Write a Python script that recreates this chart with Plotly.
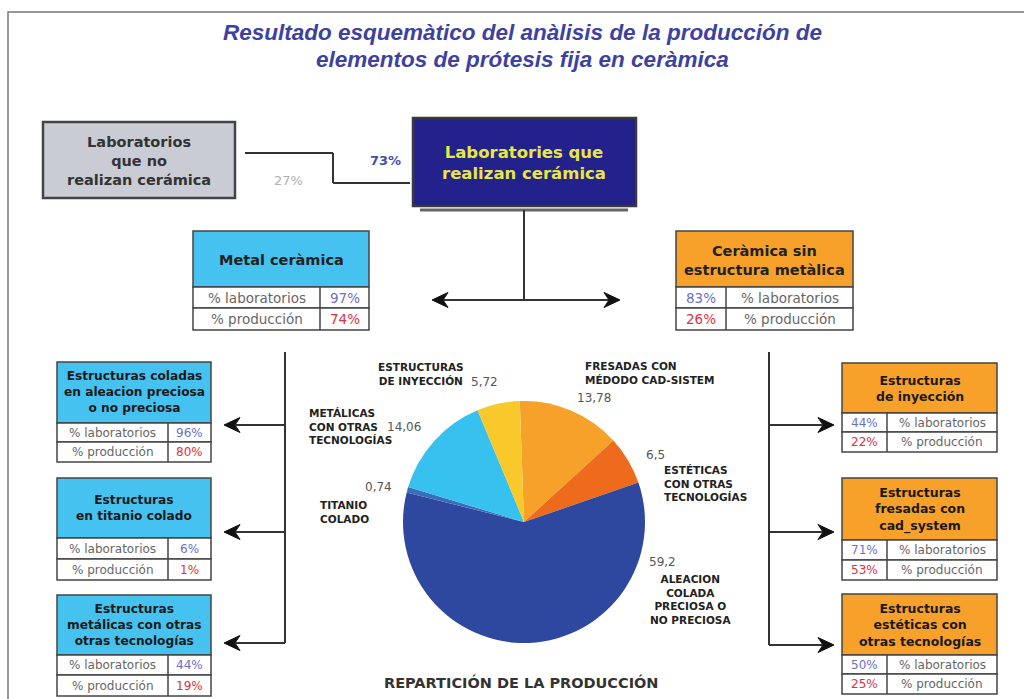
import plotly.graph_objects as go

# ---------------- data ----------------
title_lines = ["Resultado esquemàtico del anàlisis de la producción de",
               "elementos de prótesis fija en ceràmica"]
no_ceramic_label = "Laboratorios<br>que no<br>realizan cerámica"
ceramic_label = "Laboratories que<br>realizan cerámica"
share_no = "27%"
share_yes = "73%"

branch_titles = ["Metal ceràmica", "Ceràmica sin<br>estructura metàlica"]
branch_labs = ["97%", "83%"]
branch_prod = ["74%", "26%"]

left_titles = ["Estructuras coladas<br>en aleacion preciosa<br>o no preciosa",
               "Estructuras<br>en titanio colado",
               "Estructuras<br>metálicas con otras<br>otras tecnologías"]
left_labs = ["96%", "6%", "44%"]
left_prod = ["80%", "1%", "19%"]

right_titles = ["Estructuras<br>de inyección",
                "Estructuras<br>fresadas con<br>cad_system",
                "Estructuras<br>estéticas con<br>otras tecnologías"]
right_labs = ["44%", "71%", "50%"]
right_prod = ["22%", "53%", "25%"]

row_labels = ["% laboratorios", "% producción"]

pie_labels = ["FRESADAS CON<br>MÉDODO CAD-SISTEM",
              "ESTÉTICAS<br>CON OTRAS<br>TECNOLOGÍAS",
              "ALEACION<br>COLADA<br>PRECIOSA O<br>NO PRECIOSA",
              "TITANIO<br>COLADO",
              "METÁLICAS<br>CON OTRAS<br>TECNOLOGÍAS",
              "ESTRUCTURAS<br>DE INYECCIÓN"]
pie_values = [13.78, 6.5, 59.2, 0.74, 14.06, 5.72]
pie_title = "REPARTICIÓN DE LA PRODUCCIÓN"

# ---------------- styles / layout positions ----------------
W, H = 1024, 699
FONT = "Liberation Sans, Arial, sans-serif"
WIDE = "DejaVu Sans, Verdana, sans-serif"
pie_colors = ["#F5A12A", "#EE6B1E", "#2D489E", "#3A6DBA", "#36C1EF", "#F9C82A"]
BLUE_HDR = "#45C2EF"
ORANGE_HDR = "#F7A12A"
EDGE = "#444444"
VAL_BLUE = "#6A70C8"
VAL_RED = "#E3303C"
ROW_GRAY = "#666666"


def px(x):
    return x / W


def py(y):
    return 1 - y / H


shapes = []
annotations = []


def rect(x0, y0, x1, y1, fill="rgba(0,0,0,0)", color=EDGE, width=1.5):
    shapes.append(dict(type="rect", xref="paper", yref="paper",
                       x0=px(x0), x1=px(x1), y0=py(y1), y1=py(y0),
                       fillcolor=fill, line=dict(color=color, width=width),
                       layer="below"))


def line(x0, y0, x1, y1, color="#333333", width=2):
    shapes.append(dict(type="line", xref="paper", yref="paper",
                       x0=px(x0), x1=px(x1), y0=py(y0), y1=py(y1),
                       line=dict(color=color, width=width)))


def head(x, y, d):
    # filled barbed arrow head, tip at (x, y); d = -1 points left, +1 points right
    L, hw, notch = 16, 7.5, 11
    pts = [(x, y), (x - d * L, y - hw), (x - d * notch, y), (x - d * L, y + hw)]
    path = "M " + " L ".join(f"{px(a):.5f},{py(b):.5f}" for a, b in pts) + " Z"
    shapes.append(dict(type="path", xref="paper", yref="paper", path=path,
                       fillcolor="#111111", line=dict(color="#111111", width=1)))


def text(x, y, s, size=12, color="#222222", bold=False, italic=False,
         xanchor="center", align="center", family=WIDE):
    if bold:
        s = f"<b>{s}</b>"
    if italic:
        s = f"<i>{s}</i>"
    annotations.append(dict(x=px(x), y=py(y), xref="paper", yref="paper", text=s,
                            showarrow=False, xanchor=xanchor, yanchor="middle",
                            align=align,
                            font=dict(family=family, size=size, color=color)))


# outer frame
rect(8, 12, 1040, 720, color="#777777", width=1.5)

# title
text(522, 32, title_lines[0], size=22.5, color="#3D42A0", bold=True, italic=True,
     family=FONT)
text(522, 60, title_lines[1], size=22.5, color="#3D42A0", bold=True, italic=True,
     family=FONT)

# top boxes
rect(43, 122, 235, 198, fill="#C9CCD4", width=2.5)
text(139, 161, no_ceramic_label, size=14.5, color="#333333", bold=True)
rect(413, 118, 636, 206, fill="#23218C", color="#3a3a3a", width=2.5)
text(524, 163, ceramic_label, size=16.5, color="#E8E840", bold=True)
line(420, 210, 628, 210, color="#666666", width=3)

line(245, 153, 333, 153)
line(333, 153, 333, 183)
line(333, 183, 410, 183)
text(385, 160, share_yes, size=13, color="#4451A8", bold=True)
text(288, 180, share_no, size=13, color="#B0B0B0")

# main split
line(524, 210, 524, 300)
line(440, 300, 612, 300)
head(432, 300, -1)
head(620, 300, 1)

# branch boxes (Metal ceràmica / Ceràmica sin estructura metàlica)
branch_geo = [dict(x0=193, x1=369, div=320, val_left=False, hdr=BLUE_HDR),
              dict(x0=676, x1=853, div=726, val_left=True, hdr=ORANGE_HDR)]
for i, g in enumerate(branch_geo):
    top, hb, mid, bot = 231, 287, 308, 330
    rect(g["x0"], top, g["x1"], hb, fill=g["hdr"])
    rect(g["x0"], hb, g["x1"], mid, fill="white")
    rect(g["x0"], mid, g["x1"], bot, fill="white")
    line(g["div"], hb, g["div"], bot, color=EDGE, width=1.5)
    text((g["x0"] + g["x1"]) / 2, (top + hb) / 2 + 1, branch_titles[i],
         size=14.5, color="#222222", bold=True)
    vals = [branch_labs[i], branch_prod[i]]
    for r, (ya, yb) in enumerate([(hb, mid), (mid, bot)]):
        yc = (ya + yb) / 2
        if g["val_left"]:
            vx, lx = (g["x0"] + g["div"]) / 2, (g["div"] + g["x1"]) / 2
        else:
            lx, vx = (g["x0"] + g["div"]) / 2, (g["div"] + g["x1"]) / 2
        text(lx, yc, row_labels[r], size=13.5, color=ROW_GRAY)
        text(vx, yc, vals[r], size=13.5, color=VAL_BLUE if r == 0 else VAL_RED)

# side connectors
line(285, 352, 285, 643)
for y in [425, 532, 643]:
    line(285, y, 236, y)
    head(224, y, -1)
line(769, 352, 769, 645)
for y in [425, 532, 645]:
    line(769, y, 822, y)
    head(834, y, 1)

# left (metal) boxes
left_geo = [(362, 423, 442, 462), (478, 538, 559, 580), (595, 655, 675, 696)]
for i, (top, hb, mid, bot) in enumerate(left_geo):
    x0, x1, dv = 57, 211, 168
    rect(x0, top, x1, hb, fill=BLUE_HDR)
    rect(x0, hb, x1, mid, fill="white")
    rect(x0, mid, x1, bot, fill="white")
    line(dv, hb, dv, bot, color=EDGE, width=1.5)
    text((x0 + x1) / 2, (top + hb) / 2, left_titles[i], size=12.2,
         color="#1a1a1a", bold=True)
    vals = [left_labs[i], left_prod[i]]
    for r, (ya, yb) in enumerate([(hb, mid), (mid, bot)]):
        yc = (ya + yb) / 2
        text((x0 + dv) / 2, yc, row_labels[r], size=12, color=ROW_GRAY)
        text((dv + x1) / 2, yc, vals[r], size=12,
             color=VAL_BLUE if r == 0 else VAL_RED)

# right (ceramic) boxes
right_geo = [(363, 413, 432, 452), (478, 540, 560, 580), (594, 655, 674, 694)]
for i, (top, hb, mid, bot) in enumerate(right_geo):
    x0, x1, dv = 842, 997, 887
    rect(x0, top, x1, hb, fill=ORANGE_HDR)
    rect(x0, hb, x1, mid, fill="white")
    rect(x0, mid, x1, bot, fill="white")
    line(dv, hb, dv, bot, color=EDGE, width=1.5)
    text((x0 + x1) / 2, (top + hb) / 2, right_titles[i], size=12.5,
         color="#1a1a1a", bold=True)
    vals = [right_labs[i], right_prod[i]]
    for r, (ya, yb) in enumerate([(hb, mid), (mid, bot)]):
        yc = (ya + yb) / 2
        text((x0 + dv) / 2, yc, vals[r], size=12,
             color=VAL_BLUE if r == 0 else VAL_RED)
        text((dv + x1) / 2, yc, row_labels[r], size=12, color=ROW_GRAY)

# pie labels (name position, name anchor, value position)
label_pos = [((583, 373), "left", (594, 398)),
             ((662, 483), "left", (655, 455)),
             ((690, 599), "center", (662, 562)),
             ((318, 512), "left", (378, 487)),
             ((307, 427), "left", (404, 427)),
             ((421, 374), "center", (484, 382))]
for i, ((lx, ly), anc, (vx, vy)) in enumerate(label_pos):
    text(lx, ly, pie_labels[i], size=10.5, color="#222222", bold=True,
         xanchor=anc, align=anc)
    vtxt = f"{pie_values[i]:g}".replace(".", ",")
    text(vx, vy, vtxt, size=12, color="#555555")

text(521, 682, pie_title, size=14.5, color="#333333", bold=True)

fig = go.Figure(go.Pie(
    values=pie_values, labels=[l.replace("<br>", " ") for l in pie_labels],
    sort=False, direction="clockwise", rotation=-2,
    marker=dict(colors=pie_colors, line=dict(width=0)),
    textinfo="none", showlegend=False, hoverinfo="label+value",
    domain=dict(x=[px(403), px(645)], y=[py(643), py(401)]),
))

fig.update_layout(
    width=W, height=H, margin=dict(l=0, r=0, t=0, b=0),
    paper_bgcolor="white", plot_bgcolor="white",
    shapes=shapes, annotations=annotations, showlegend=False,
    font=dict(family=FONT),
)

fig.write_html("out.html", config={"displayModeBar": False},
               post_script="document.body.style.margin='0';document.body.style.overflow='hidden';")
